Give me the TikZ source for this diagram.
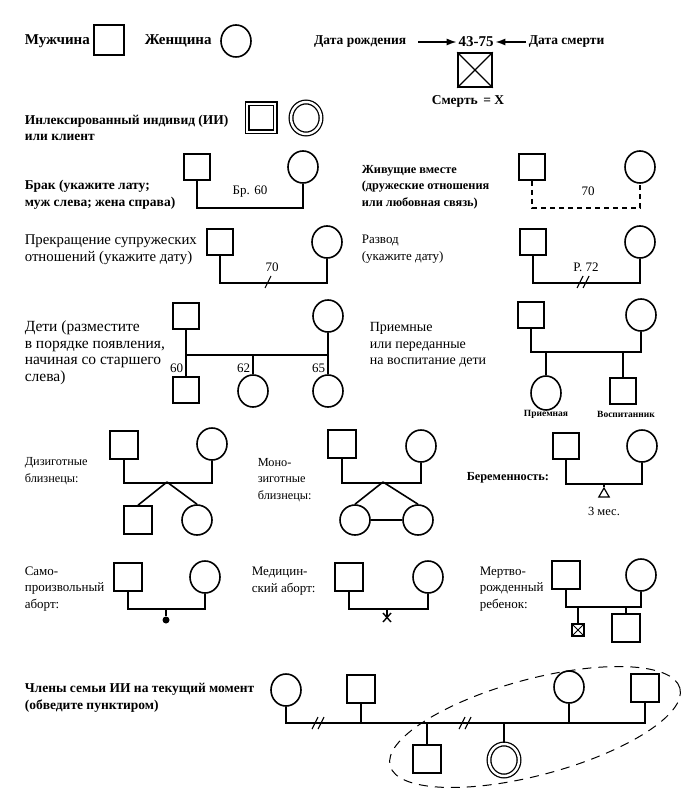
\documentclass[tikz,border=0pt]{standalone}
\usepackage{fontspec}
\setmainfont{Liberation Serif}
\usetikzlibrary{arrows.meta,shapes.geometric}
\tikzset{every picture/.style={line width=1.6pt}}
\tikzset{
 male/.style={draw,rectangle,minimum size=26,inner sep=0},
 female/.style={draw,ellipse,minimum width=30,minimum height=32,inner sep=0},
 proband/.style={double,double distance=2.4pt,line width=1.3pt},
 txt/.style={anchor=west,align=left,inner sep=0,font=\fontsize{#1}{16.5}\selectfont},
 txt/.default=13,
 txtb/.style={anchor=west,align=left,inner sep=0,font=\bfseries\fontsize{#1}{16.5}\selectfont},
 txtb/.default=13,
 num/.style={inner sep=1pt,font=\fontsize{13}{15}\selectfont},
 small/.style={inner sep=1pt,font=\bfseries\fontsize{9.5}{11}\selectfont},
 link/.style={line width=2pt},
 arr/.style={-{Latex[length=10pt,width=7pt]},line width=1.6pt},
}
\newcommand\brkmark[1]{\draw[line width=1.1pt] (#1) ++(-3,6) -- ++(6,-12);}

\begin{document}
\begin{tikzpicture}[x=1pt,y=-1pt]
 \useasboundingbox (0,0) rectangle (689,791);
 % legend
 \node[txtb=15] (tmale) at (24,41) {Мужчина};
 \node[male,minimum size=30] (m0) at (109,40) {};
 \node[txtb=15] (tfem) at (144,41) {Женщина};
 \node[female,minimum width=30,minimum height=32] (f0) at (236,41) {};
 \node[txtb=13.5,anchor=east,inner sep=2pt] (tbirth) at (409,42) {Дата рождения};
 \node[num,font=\bfseries\fontsize{15}{17}\selectfont] (yrs) at (476,42) {43-75};
 \node[txtb=13.5,inner sep=2pt] (tdeath) at (526,42) {Дата смерти};
 \draw[arr,shorten <=9pt] (tbirth) -- (yrs);
 \draw[arr] (tdeath) -- (yrs);
 \node[male,minimum size=34] (dead) at (475,70) {};
 \draw[line width=1.1pt] (dead.north west) -- (dead.south east)
  (dead.north east) -- (dead.south west);
 \node[txtb=13.5,anchor=center] (tdead) at (468,101) {Смерть \,= Х};

 % proband
 \node[txtb=13.5] (tprob) at (24,128) {Инлексированный индивид (ИИ)\\или клиент};
 \node[male,proband,minimum size=28] (mp) at (261,118) {};
 \node[female,proband] (fp) at (306,118) {};

 % marriage
 \node[txtb=13.5] (tmar) at (24,195) {Брак (укажите лату;\\муж слева; жена справа)};
 \node[male] (m1) at (197,167) {};
 \node[female] (f1) at (303,167) {};
 \draw[link] (m1.south) -- ++(0,27) -| (f1.south);
 \node[num] (d1) at (250,192) {Бр. 60};
 \node[txtb=12.3] (tliv) at (361,187) {Живущие вместе\\(дружеские отношения\\или любовная связь)};
 \node[male] (m2) at (532,167) {};
 \node[female] (f2) at (640,167) {};
 \draw[link,dash pattern=on 5pt off 4pt] (m2.south) -- ++(0,27) -| (f2.south);
 \node[num] (d2) at (588,191) {70};

 % separation, divorce
 \node[txt=14.8] (tsep) at (24,250) {Прекращение супружеских\\отношений (укажите дату)};
 \node[male] (m3) at (220,242) {};
 \node[female] (f3) at (327,242) {};
 \draw[link] (m3.south) -- ++(0,27) -| (f3.south);
 \node[num] (d3) at (272,267) {70};
 \brkmark{268,282}
 \node[txt] (tdiv) at (361,249) {Развод\\(укажите дату)};
 \node[male] (m4) at (533,242) {};
 \node[female] (f4) at (640,242) {};
 \draw[link] (m4.south) -- ++(0,27) -| (f4.south);
 \node[num] (d4) at (586,267) {Р. 72};
 \brkmark{580,282}
 \brkmark{586,282}

 % children
 \node[txt=15.5] (tkid) at (24,353) {Дети (разместите\\в порядке появления,\\начиная со старшего\\слева)};
 \node[male] (m5) at (186,316) {};
 \node[female] (f5) at (328,316) {};
 \node[male] (c51) at (186,390) {};
 \node[female] (c52) at (253,391) {};
 \node[female] (c53) at (328,391) {};
 \draw[link] (m5.south) -- (c51.north);
 \draw[link] (f5.south) -- (c53.north);
 \path (m5.south) ++(0,25) coordinate (l5);
 \draw[link] (l5) -- (l5 -| f5.south);
 \draw[link] (l5 -| c52.north) -- (c52.north);
 \node[num,anchor=east] (y51) at (185,368) {60};
 \node[num,anchor=east] (y52) at (252,368) {62};
 \node[num,anchor=east] (y53) at (327,368) {65};
 \node[txt=14] (tfos) at (369,345) {Приемные\\или переданные\\на воспитание дети};
 \node[male] (m6) at (531,315) {};
 \node[female] (f6) at (641,315) {};
 \node[female,minimum height=34] (c61) at (546,393) {};
 \node[male] (c62) at (623,391) {};
 \draw[link] (m6.south) -- ++(0,23) coordinate (l6) -| (f6.south);
 \draw[link] (l6 -| c61.north) -- (c61.north);
 \draw[link] (l6 -| c62.north) -- (c62.north);
 \node[small] (n61) at (546,414) {Приемная};
 \node[small] (n62) at (626,414) {Воспитанник};

 % twins
 \node[txt=12.3] (tdz) at (24,471) {Дизиготные\\близнецы:};
 \node[male,minimum size=28] (m7) at (124,445) {};
 \node[female] (f7) at (212,444) {};
 \draw[link] (m7.south) -- ++(0,23) coordinate (l7) -| (f7.south);
 \coordinate (a7) at (167,482);
 \node[male,minimum size=28] (c71) at (138,520) {};
 \node[female,minimum height=30] (c72) at (197,520) {};
 \draw (a7) -- (c71.north) (a7) -- (c72.north);
 \node[txt=12.3] (tmz) at (257,480) {Моно-\\зиготные\\близнецы:};
 \node[male,minimum size=28] (m8) at (342,444) {};
 \node[female] (f8) at (421,446) {};
 \draw[link] (m8.south) -- ++(0,24) coordinate (l8) -| (f8.south);
 \coordinate (a8) at (383,482);
 \node[female,minimum height=30] (c81) at (355,520) {};
 \node[female,minimum height=30] (c82) at (418,520) {};
 \draw (a8) -- (c81.north) (a8) -- (c82.north);
 \draw[link] (c81) -- (c82);
 \node[txtb=12.3] (tpreg) at (466,478) {Беременность:};
 \node[male] (m9) at (566,446) {};
 \node[female] (f9) at (642,446) {};
 \draw[link] (m9.south) -- ++(0,24) coordinate (l9) -| (f9.south);
 \node[draw,isosceles triangle,isosceles triangle apex angle=60,shape border rotate=90,
  minimum size=9,inner sep=0,line width=1.2pt] (p9) at (604,494) {};
 \draw[link] (l9 -| p9.apex) -- (p9.apex);
 \node[num,font=\fontsize{12.5}{14}\selectfont] (n9) at (604,511) {3 мес.};

 % abortions, stillbirth
 \node[txt] (tsp) at (24,589) {Само-\\произвольный\\аборт:};
 \node[male,minimum size=28] (m10) at (128,577) {};
 \node[female] (f10) at (205,577) {};
 \draw[link] (m10.south) -- ++(0,17) coordinate (l10) -| (f10.south);
 \node[circle,fill,inner sep=0,minimum size=7] (s10) at (166,620) {};
 \draw[link] (l10 -| s10.north) -- (s10.north);
 \node[txt] (tmed) at (251,581) {Медицин-\\ский аборт:};
 \node[male,minimum size=28] (m11) at (349,577) {};
 \node[female] (f11) at (428,577) {};
 \draw[link] (m11.south) -- ++(0,17) coordinate (l11) -| (f11.south);
 \coordinate (x11) at (387,616);
 \draw[link] (l11 -| x11) -- (x11);
 \draw[line width=1.4pt] (x11) ++(-4,-3) -- ++(8,9) (x11) ++(4,-3) -- ++(-8,9);
 \node[txt] (tst) at (479,589) {Мертво-\\рожденный\\ребенок:};
 \node[male,minimum size=28] (m12) at (566,575) {};
 \node[female] (f12) at (641,575) {};
 \draw[link] (m12.south) -- ++(0,17) coordinate (l12) -| (f12.south);
 \node[male,minimum size=12,line width=1.2pt] (c121) at (578,630) {};
 \draw[line width=1pt] (c121.north west) -- (c121.south east)
  (c121.north east) -- (c121.south west);
 \node[male,minimum size=28] (c122) at (626,628) {};
 \draw[link] (l12 -| c121.north) -- (c121.north);
 \draw[link] (l12 -| c122.north) -- (c122.north);

 % current household
 \node[txtb=13.5] (tcur) at (24,698) {Члены семьи ИИ на текущий момент\\(обведите пунктиром)};
 \node[female] (f13) at (286,690) {};
 \node[male,minimum size=28] (m13) at (361,689) {};
 \node[female] (f14) at (569,687) {};
 \node[male,minimum size=28] (m14) at (645,688) {};
 \draw[link] (f13.south) |- (m14.south |- 0,723) coordinate (l13) -- (m14.south);
 \draw[link] (m13.south) -- (m13.south |- l13);
 \draw[link] (f14.south) -- (f14.south |- l13);
 \node[male,minimum size=28] (c131) at (427,759) {};
 \node[female,proband] (c132) at (504,760) {};
 \draw[link] (c131.north |- l13) -- (c131.north);
 \draw[link] (c132.north |- l13) -- (c132.north);
 \brkmark{315,723}
 \brkmark{321,723}
 \brkmark{462,723}
 \brkmark{468,723}
 \node[draw,dashed,ellipse,minimum width=300,minimum height=96,rotate=15,
  line width=1pt,dash pattern=on 9pt off 7pt] (hh) at (535,727) {};
\end{tikzpicture}
\end{document}
